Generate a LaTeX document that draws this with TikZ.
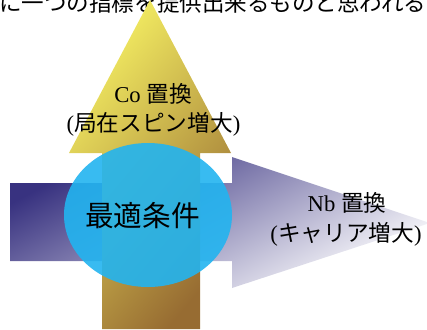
\documentclass[tikz,border=0pt]{standalone}
\usepackage{fontspec}
\setmainfont{Liberation Serif}
\newfontfamily\jp{Noto Sans CJK JP}
\usetikzlibrary{shapes.geometric}
\definecolor{yel}{HTML}{F4EE62}
\definecolor{yelmid}{HTML}{D6BE50}
\definecolor{brn}{HTML}{976C32}
\definecolor{navy}{HTML}{383280}
\definecolor{navymid}{HTML}{A9A6C8}
\definecolor{pale}{HTML}{FFFFFF}
\definecolor{cyn}{HTML}{22B4F0}
\tikzset{
  lbl/.style={font=\fontsize{17pt}{20pt}\selectfont, align=center, inner sep=0pt},
}
\begin{document}
\begin{tikzpicture}[x=0.75pt,y=-0.75pt]
\useasboundingbox (0,0) rectangle (427,329);
\clip (0,0) rectangle (427,329);
% top partial text line
\node[anchor=base west, inner sep=0pt, font=\jp\fontsize{16.9pt}{18pt}\selectfont] (top) at (-1,11) {に一つの指標を提供出来るものと思われる};
% horizontal arrow
\path[top color=navy, middle color=navymid, bottom color=pale, shading angle=28]
  (10,183) -- (232,183) -- (232,157) -- (430,223) -- (232,288) -- (232,261) -- (10,261) -- cycle;
% vertical arrow
\path[top color=yel, middle color=yelmid, bottom color=brn, shading angle=50]
  (102,329) -- (102,153) -- (69,153) -- (150,0) -- (231,153) -- (200,153) -- (200,329) -- cycle;
% ellipse
\node[ellipse, fill=cyn, fill opacity=0.9, minimum width=126pt, minimum height=108pt, inner sep=0pt] (opt) at (148,215) {};
\node[inner sep=0pt, font=\jp\fontsize{21.5pt}{24pt}\selectfont] (opttxt) at (142.5,216) {最適条件};
% labels
\node[lbl] (co) at (153,94) {Co {\jp 置換}};
\node[lbl] (co2) at (153.5,124) {({\jp 局在スピン増大})};
\node[lbl] (nb) at (347,203) {Nb {\jp 置換}};
\node[lbl] (nb2) at (346,234) {({\jp キャリア増大})};
\end{tikzpicture}
\end{document}
